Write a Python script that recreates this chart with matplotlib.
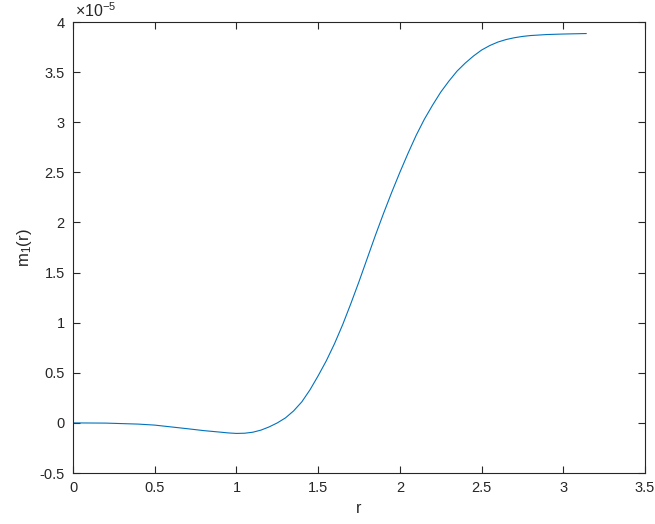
import matplotlib
matplotlib.use("Agg")
import matplotlib.pyplot as plt
from matplotlib.ticker import FormatStrFormatter

plt.rcParams['font.family'] = ['Liberation Sans', 'DejaVu Sans']
plt.rcParams['axes.unicode_minus'] = False

# values, m1 in units of 1e-5
r = [0, 0.2, 0.4, 0.5, 0.6, 0.7, 0.8, 0.9, 0.95, 1.0, 1.05, 1.1, 1.15, 1.2,
     1.25, 1.3, 1.35, 1.4, 1.45, 1.5, 1.55, 1.6, 1.65, 1.7, 1.75, 1.8,
     1.85, 1.9, 1.95, 2.0, 2.05, 2.1, 2.15, 2.2, 2.25, 2.3, 2.35, 2.4,
     2.45, 2.5, 2.55, 2.6, 2.65, 2.7, 2.75, 2.8, 2.9, 3.0, 3.14]
m1 = [0, -0.002, -0.012, -0.022, -0.04, -0.058, -0.077, -0.092, -0.1,
      -0.105, -0.103, -0.093, -0.072, -0.04, 0.0, 0.05, 0.12, 0.21, 0.33,
      0.47, 0.62, 0.79, 0.98, 1.19, 1.41, 1.64, 1.87, 2.09, 2.30, 2.50,
      2.69, 2.87, 3.03, 3.17, 3.30, 3.41, 3.51, 3.59, 3.66, 3.72, 3.765,
      3.80, 3.825, 3.843, 3.856, 3.865, 3.875, 3.88, 3.885]

xticks = [0, 0.5, 1, 1.5, 2, 2.5, 3, 3.5]
yticks = [-0.5, 0, 0.5, 1, 1.5, 2, 2.5, 3, 3.5, 4]

fig = plt.figure(figsize=(6.55, 5.24), dpi=100)
ax = fig.add_axes([0.1115, 0.0973, 0.8732, 0.8607])

ax.plot(r, m1, color='#0072BD', linewidth=0.8)

ax.set_xlim(0, 3.5)
ax.set_ylim(-0.5, 4)
ax.set_xticks(xticks)
ax.set_yticks(yticks)
ax.xaxis.set_major_formatter(FormatStrFormatter('%g'))
ax.yaxis.set_major_formatter(FormatStrFormatter('%g'))

for s in ax.spines.values():
    s.set_color('#262626')
    s.set_linewidth(0.8)
ax.tick_params(direction='in', length=5, width=0.8, colors='#262626',
               labelsize=10.5, top=True, right=True, pad=6)

ax.set_xlabel('r', fontsize=11.5, color='#262626')
ax.set_ylabel(r'$\mathregular{m_1(r)}$', fontsize=12, color='#262626')
ax.text(0.003, 1.004, r'$\mathregular{\times10^{-5}}$', transform=ax.transAxes,
        fontsize=11.5, color='#262626', ha='left', va='bottom')

fig.savefig('out.png', dpi=100)
